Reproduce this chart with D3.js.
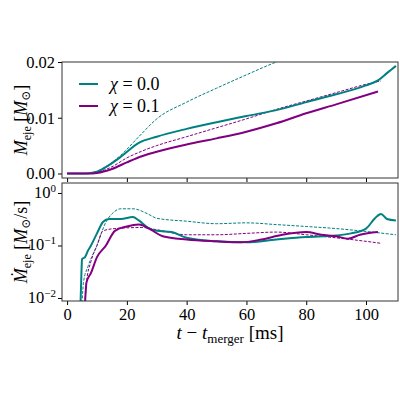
<!DOCTYPE html><html><head><script src="https://cdn.jsdelivr.net/npm/d3@7"></script>
<style>body{margin:0}text{font-family:"Liberation Serif","DejaVu Serif",serif}</style></head><body><svg id="c" width="400" height="400"></svg><script>
const teal="#008080", purple="#800080";
const topTealSolid=[[0,0],[5,0],[8,0.0001],[10,0.0003],[14,0.0015],[18,0.003],[24,0.0055],[30,0.0066],[40,0.008],[50,0.0092],[60,0.0103],[71,0.0115],[80,0.0128],[90,0.0142],[100,0.0158],[104,0.0167],[107,0.018],[110,0.0193]];
const topTealDash=[[0,0],[6,0],[10,0.0004],[14,0.0016],[18,0.0033],[24,0.0066],[30,0.0098],[40,0.0128],[50,0.0153],[60,0.0177],[70,0.02],[75,0.021]];
const topPurpSolid=[[0,0],[7,0],[10,0.0001],[15,0.0008],[20,0.002],[25,0.0031],[30,0.0039],[40,0.0052],[50,0.0063],[60,0.0075],[70,0.009],[80,0.0108],[90,0.0124],[104,0.0147]];
const topPurpDash=[[0,0],[7,0],[10,0.0002],[15,0.0012],[20,0.0028],[25,0.004],[30,0.005],[40,0.0066],[50,0.0082],[60,0.0098],[70,0.0115],[80,0.013],[90,0.0145],[100,0.016],[105,0.0166]];
const botTealSolid=[[4.5,0.008],[4.8,0.03],[5,0.055],[6,0.06],[7,0.08],[8,0.1],[10,0.17],[12,0.28],[14,0.32],[18,0.32],[22,0.35],[24,0.3],[27,0.22],[30,0.19],[35,0.18],[40,0.14],[50,0.12],[60,0.115],[70,0.13],[80,0.145],[90,0.155],[95,0.17],[100,0.21],[103,0.33],[105,0.4],[107,0.32],[110,0.3]];
const botTealDash=[[5,0.008],[5.5,0.02],[7,0.04],[10,0.1],[13,0.28],[15,0.4],[18,0.5],[22,0.5],[27,0.4],[30,0.33],[40,0.29],[50,0.26],[60,0.27],[70,0.25],[80,0.23],[90,0.21],[100,0.185],[110,0.16]];
const botPurpSolid=[[6,0.008],[6.5,0.02],[8,0.03],[10,0.06],[13,0.1],[16,0.19],[20,0.23],[24,0.25],[28,0.2],[32,0.15],[40,0.13],[50,0.12],[58,0.115],[65,0.13],[72,0.16],[80,0.18],[85,0.16],[90,0.15],[94,0.135],[98,0.16],[104,0.18]];
const botPurpDash=[[6,0.008],[6.5,0.02],[8,0.05],[10,0.1],[12,0.19],[16,0.21],[25,0.22],[30,0.2],[40,0.16],[50,0.16],[60,0.17],[70,0.18],[80,0.16],[90,0.14],[100,0.12],[105,0.11]];
const xTicks=[0,20,40,60,80,100], topTicks=[0,0.01,0.02], botTicks=[0.01,0.1,1];
const svg=d3.select("#c");
const x=d3.scaleLinear().domain([-1.7,110.7]).range([62,398]);
const yT=d3.scaleLinear().domain([-0.00081,0.02]).range([178,62]);
const yB=d3.scaleLog().domain([Math.pow(10,-2.057),Math.pow(10,0.19)]).range([301,183]);
const defs=svg.append("defs");
[["ct",62,178],["cb",183,301]].forEach(([id,a,b])=>defs.append("clipPath").attr("id",id).append("rect").attr("x",62).attr("y",a).attr("width",336).attr("height",b-a));
function draw(data,y,col,dash,clip){
 svg.append("path").datum(data).attr("clip-path",`url(#${clip})`).attr("fill","none").attr("stroke",col)
 .attr("stroke-width",dash?1:2).attr("stroke-dasharray",dash?"3,1.5":null)
 .attr("d",d3.line().x(d=>x(d[0])).y(d=>y(d[1])).curve(d3.curveMonotoneX));}
draw(topTealDash,yT,teal,1,"ct");draw(topPurpDash,yT,purple,1,"ct");
draw(topTealSolid,yT,teal,0,"ct");draw(topPurpSolid,yT,purple,0,"ct");
draw(botTealDash,yB,teal,1,"cb");draw(botPurpDash,yB,purple,1,"cb");
draw(botTealSolid,yB,teal,0,"cb");draw(botPurpSolid,yB,purple,0,"cb");
svg.append("g").attr("transform","translate(0,178)").call(d3.axisBottom(x).tickValues(xTicks).tickFormat("").tickSize(4));
svg.append("g").attr("transform","translate(0,301)").call(d3.axisBottom(x).tickValues(xTicks).tickSize(4));
svg.append("g").attr("transform","translate(62,0)").call(d3.axisLeft(yT).tickValues(topTicks).tickFormat(d3.format(".2f")).tickSize(4));
const gb=svg.append("g").attr("transform","translate(62,0)").call(d3.axisLeft(yB).tickValues(botTicks).tickFormat("").tickSize(4));
svg.selectAll(".domain").remove();
svg.selectAll(".tick text").attr("font-size",16.5).style("font-family","Liberation Serif,serif");
botTicks.forEach(v=>{const e=Math.round(Math.log10(v));const t=svg.append("text").attr("x",56).attr("y",yB(v)+5).attr("text-anchor","end").attr("font-size",16.5);
 t.append("tspan").text("10");t.append("tspan").attr("dy",-6).attr("font-size",11).text(e==0?"0":"−"+(-e));});
svg.append("rect").attr("x",62).attr("y",62).attr("width",336).attr("height",116).attr("fill","none").attr("stroke","#333");
svg.append("rect").attr("x",62).attr("y",183).attr("width",336).attr("height",118).attr("fill","none").attr("stroke","#333");
[[teal,"0.0",84],[purple,"0.1",106]].forEach(([c,v,yy])=>{svg.append("line").attr("x1",79).attr("x2",98).attr("y1",yy).attr("y2",yy).attr("stroke",c).attr("stroke-width",2);
 const t=svg.append("text").attr("x",110).attr("y",yy+6).attr("font-size",18);t.append("tspan").attr("font-style","italic").text("χ");t.append("tspan").text(" = "+v);});
function ylab(cy,dot,unit){const t=svg.append("text").attr("transform",`translate(27,${cy}) rotate(-90)`).attr("text-anchor","middle").attr("font-size",18);
 t.append("tspan").attr("font-style","italic").text(dot?"Ṁ":"M");t.append("tspan").attr("dy",4).attr("font-size",12).text("eje");
 t.append("tspan").attr("dy",-4).text(" ["); t.append("tspan").attr("font-style","italic").text("M"); t.append("tspan").attr("dy",3).attr("font-size",12).text("⊙");
 t.append("tspan").attr("dy",-3).text(unit+"]");}
ylab(120,false,"");ylab(242,true,"/s");
const xl=svg.append("text").attr("x",230).attr("y",339).attr("text-anchor","middle").attr("font-size",19);
xl.append("tspan").attr("font-style","italic").text("t");xl.append("tspan").text(" − ");xl.append("tspan").attr("font-style","italic").text("t");
xl.append("tspan").attr("dy",4).attr("font-size",13).text("merger");xl.append("tspan").attr("dy",-4).text(" [ms]");
</script></body></html>
